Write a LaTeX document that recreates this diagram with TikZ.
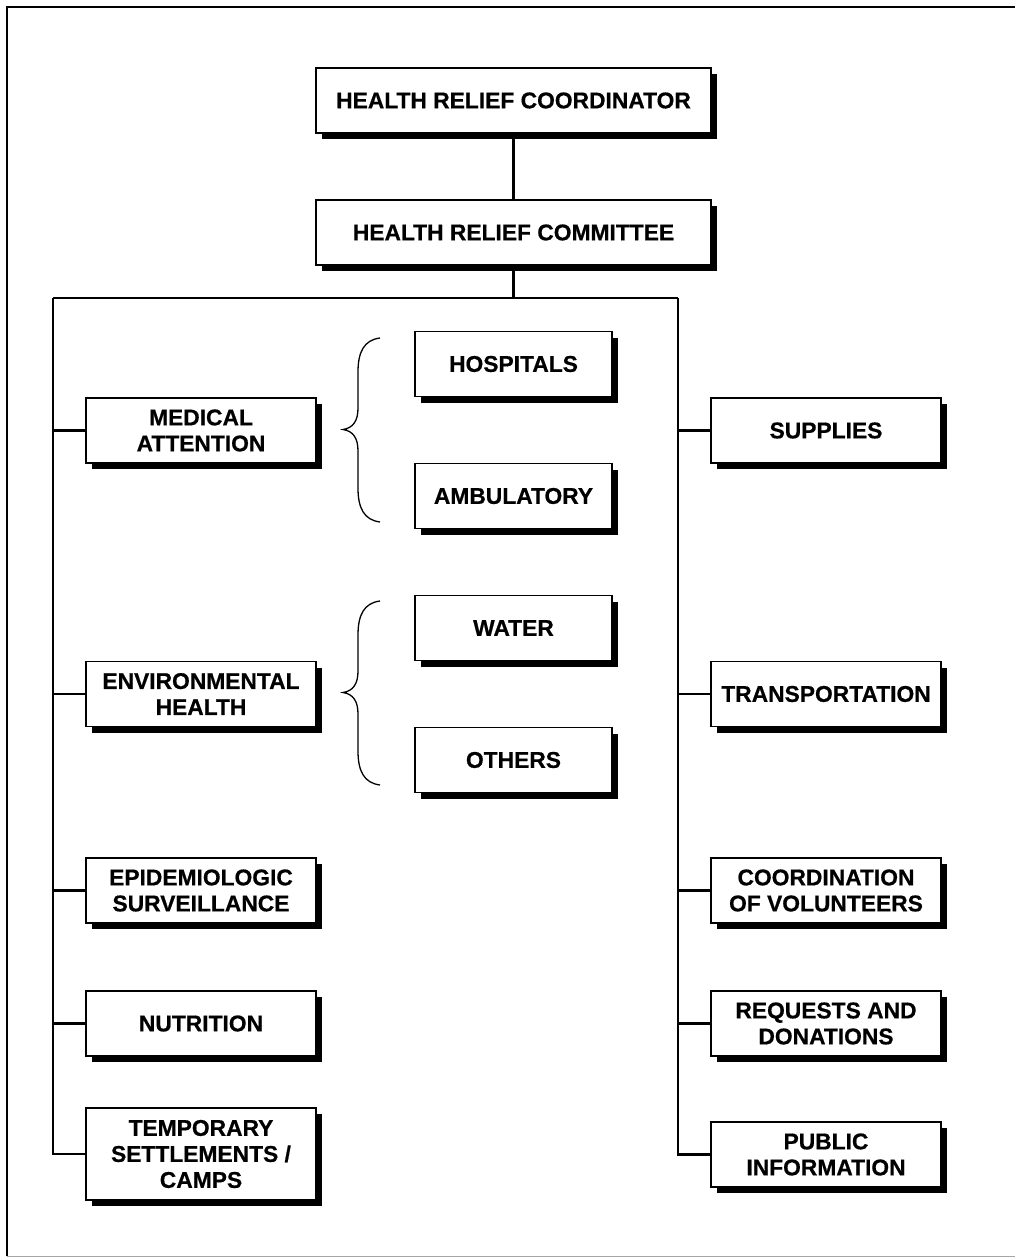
\documentclass[tikz,border=0pt]{standalone}
\usepackage{fontspec}
\setmainfont{Liberation Sans}[BoldFeatures={FakeBold=0.6}]
\usetikzlibrary{shadows}
\begin{document}
\begin{tikzpicture}[x=1pt,y=-1pt,
  unit/.style={draw=black,line width=1.6pt,fill=white,inner sep=0pt,outer sep=0pt,
    align=center,font=\fontsize{22.8}{26}\selectfont\bfseries,
    drop shadow={shadow xshift=6pt,shadow yshift=-6pt,opacity=1,fill=black}},
  topbox/.style={unit,minimum width=395pt,minimum height=65pt},
  sidebox/.style={unit,minimum width=230pt,minimum height=65pt},
  midbox/.style={unit,minimum width=197pt,minimum height=65pt},
  link/.style={line width=2.2pt},
  curly/.style={line width=1.3pt}]
\useasboundingbox (0,0) rectangle (1015,1257);

% page frame
\draw[line width=2pt] (7,1256) -- (7,7) -- (1015,7);
\draw[gray!70,line width=1pt] (7,1256) -- (1015,1256);

% top of the hierarchy
\node[topbox] (coord) at (513.5,100.5) {HEALTH RELIEF COORDINATOR};
\node[topbox] (comm) at (513.5,232.5) {HEALTH RELIEF COMMITTEE};

% left column
\node[sidebox] (med) at (201,430.5) {MEDICAL\\ATTENTION};
\node[sidebox] (env) at (201,694) {ENVIRONMENTAL\\HEALTH};
\node[sidebox] (epi) at (201,890.5) {EPIDEMIOLOGIC\\SURVEILLANCE};
\node[sidebox] (nut) at (201,1023.5) {NUTRITION};
\node[sidebox,minimum height=92pt] (tmp) at (201,1154) {TEMPORARY\\SETTLEMENTS /\\CAMPS};

% right column
\node[sidebox] (sup) at (826,430.5) {SUPPLIES};
\node[sidebox] (trn) at (826,694) {TRANSPORTATION};
\node[sidebox] (vol) at (826,890.5) {COORDINATION\\OF VOLUNTEERS};
\node[sidebox] (req) at (826,1023.5) {REQUESTS AND\\DONATIONS};
\node[sidebox] (pub) at (826,1154.5) {PUBLIC\\INFORMATION};

% middle column
\node[midbox] (hos) at (513.5,364) {HOSPITALS};
\node[midbox] (amb) at (513.5,496) {AMBULATORY};
\node[midbox] (wat) at (513.5,628) {WATER};
\node[midbox] (oth) at (513.5,760) {OTHERS};

% connectors
\coordinate (bus) at (513.5,298);
\coordinate (lbus) at (53,298);
\coordinate (rbus) at (678,298);
\draw[link] (coord.south) -- (comm.north);
\draw[link] (comm.south) -- (bus);
\draw[link] (lbus) -- (rbus);
\draw[link] (lbus) |- (tmp.west);
\draw[link] (rbus) |- (pub.west);
\foreach \b in {med,env,epi,nut}
  \draw[link] (lbus |- \b.west) -- (\b.west);
\foreach \b in {sup,trn,vol,req}
  \draw[link] (rbus |- \b.west) -- (\b.west);

% braces grouping the sub-units
\draw[curly] (380,338) .. controls (364,340) and (358,352) .. (358,372)
  -- (358,408) .. controls (358,421) and (353,428) .. (343,429.5)
  .. controls (353,431) and (358,438) .. (358,451)
  -- (358,488) .. controls (358,508) and (364,520) .. (380,522);
\draw[curly] (380,601) .. controls (364,603) and (358,615) .. (358,635)
  -- (358,671) .. controls (358,684) and (353,691) .. (343,692.5)
  .. controls (353,694) and (358,701) .. (358,714)
  -- (358,751) .. controls (358,771) and (364,783) .. (380,785);
\end{tikzpicture}
\end{document}
